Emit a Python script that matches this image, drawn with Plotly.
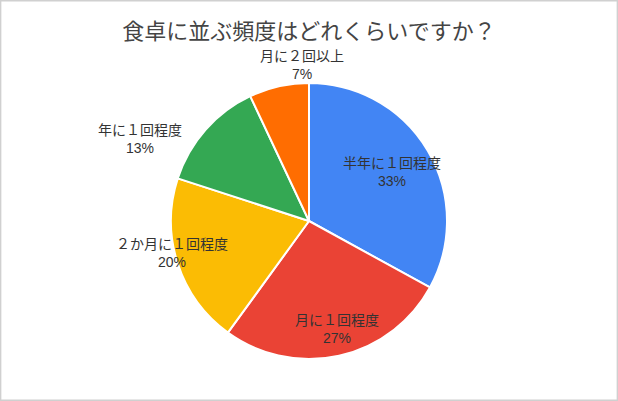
import math
import plotly.graph_objects as go

# survey answers, clockwise from 12 o'clock
labels = ['半年に１回程度', '月に１回程度', '２か月に１回程度', '年に１回程度', '月に２回以上']
values = [33, 27, 20, 13, 7]
colors = ['#4285F4', '#EA4335', '#FBBC04', '#34A853', '#FF6D01']

font_jp = 'Liberation Sans, Noto Sans CJK JP'
W, H = 618, 401

# pie placement (pixels) and label placement style per slice
cx, cy, R = 309, 221, 138
label_r = [0.70, 0.81, 1.02, 1.36, 1.13]
label_nudge = [0, -2, 5, -15.5, 10]

fig = go.Figure()
fig.add_trace(
    go.Pie(
        labels=labels,
        values=values,
        sort=False,
        direction='clockwise',
        rotation=0,
        marker=dict(colors=colors, line=dict(color='white', width=2)),
        textinfo='none',
        hoverinfo='label+percent',
        showlegend=False,
        domain=dict(x=[(cx - R) / W, (cx + R) / W], y=[(H - cy - R) / H, (H - cy + R) / H]),
    )
)

# slice labels, placed from each slice's mid angle
total = sum(values)
start = 0
annotations = []
for i, (lab, v) in enumerate(zip(labels, values)):
    mid = (start + v / 2) / total * 360 + label_nudge[i]
    start += v
    a = math.radians(mid)
    px = cx + label_r[i] * R * math.sin(a)
    py = cy - label_r[i] * R * math.cos(a)
    annotations.append(dict(
        x=px / W, y=1 - py / H, xref='paper', yref='paper',
        xanchor='center', yanchor='middle',
        text=f'{lab}<br>{round(v / total * 100)}%',
        showarrow=False, align='center',
        font=dict(family=font_jp, size=14, color='#333333'),
    ))

fig.update_layout(
    width=W,
    height=H,
    margin=dict(l=0, r=0, t=0, b=0),
    paper_bgcolor='white',
    title=dict(
        text='食卓に並ぶ頻度はどれくらいですか？',
        x=0.5, xanchor='center',
        y=1 - 31 / H, yanchor='middle',
        font=dict(family=font_jp, size=22, color='#444444'),
    ),
    annotations=annotations,
    shapes=[dict(type='rect', xref='paper', yref='paper', x0=0.001, x1=0.999, y0=0.002, y1=0.998,
                 line=dict(color='#d0d0d0', width=1.5))],
)

fig.write_html("out.html", config={'displayModeBar': False},
               post_script="document.body.style.margin='0';document.body.style.overflow='hidden';")
